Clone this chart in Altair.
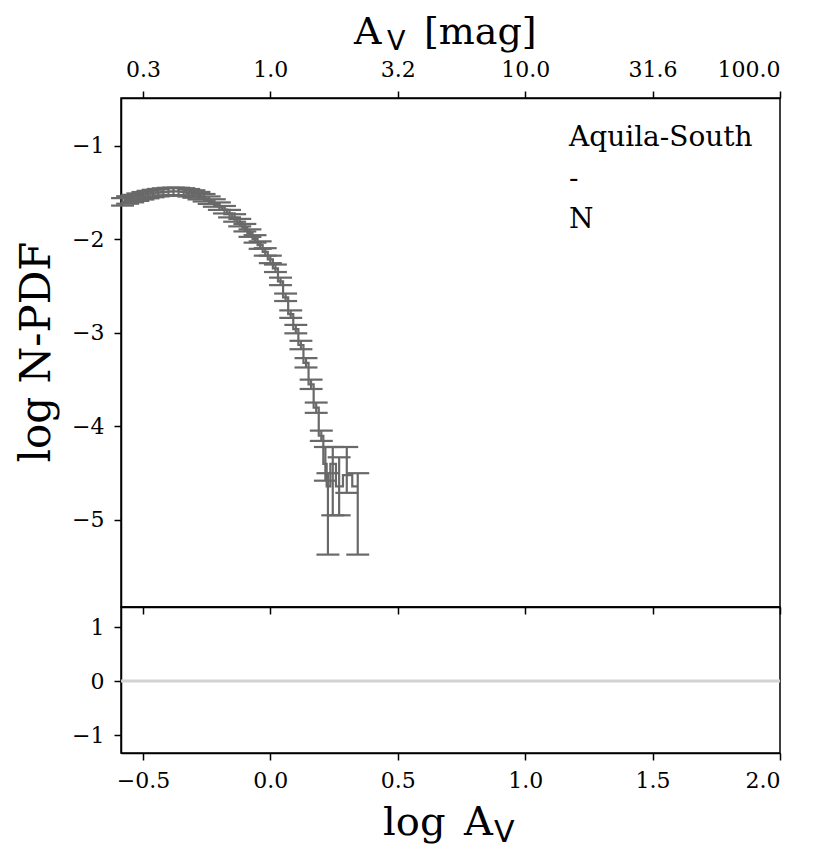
import altair as alt
import pandas as pd

# ---- data ----
log_av = [-0.58, -0.56, -0.54, -0.52, -0.50, -0.48, -0.46, -0.44, -0.42, -0.40,
          -0.38, -0.36, -0.34, -0.32, -0.30, -0.28, -0.26, -0.24, -0.22, -0.20,
          -0.18, -0.16, -0.14, -0.12, -0.10, -0.08, -0.06, -0.04, -0.02, 0.00,
          0.02, 0.04, 0.06, 0.08, 0.10, 0.12, 0.14, 0.16, 0.18, 0.20,
          0.216, 0.226, 0.245, 0.270, 0.300, 0.343]
log_pdf = [-1.600, -1.580, -1.565, -1.550, -1.535, -1.522, -1.511, -1.502, -1.495, -1.490,
           -1.488, -1.489, -1.494, -1.503, -1.516, -1.534, -1.556, -1.582, -1.612, -1.646,
           -1.684, -1.726, -1.772, -1.822, -1.876, -1.934, -1.996, -2.062, -2.135, -2.215,
           -2.310, -2.450, -2.620, -2.800, -2.960, -3.130, -3.320, -3.550, -3.800, -4.100,
           -4.400, -4.640, -4.400, -4.640, -4.520, -4.640]
err_lo = [0.040, 0.040, 0.040, 0.040, 0.040, 0.040, 0.040, 0.040, 0.040, 0.040,
          0.040, 0.040, 0.040, 0.040, 0.040, 0.040, 0.040, 0.040, 0.040, 0.040,
          0.040, 0.040, 0.040, 0.040, 0.040, 0.040, 0.040, 0.040, 0.040, 0.040,
          0.040, 0.040, 0.040, 0.040, 0.045, 0.045, 0.050, 0.050, 0.055, 0.055,
          0.180, 0.730, 0.550, 0.310, 0.190, 0.730]
err_hi = [0.040, 0.040, 0.040, 0.040, 0.040, 0.040, 0.040, 0.040, 0.040, 0.040,
          0.040, 0.040, 0.040, 0.040, 0.040, 0.040, 0.040, 0.040, 0.040, 0.040,
          0.040, 0.040, 0.040, 0.040, 0.040, 0.040, 0.040, 0.040, 0.040, 0.040,
          0.040, 0.040, 0.040, 0.040, 0.045, 0.045, 0.050, 0.050, 0.055, 0.055,
          0.180, 0.140, 0.180, 0.310, 0.300, 0.140]
cap_half = 0.045
legend_text = "Aquila-South\n-\nN"
x_ticks = [-0.5, 0.0, 0.5, 1.0, 1.5, 2.0]
y_ticks_main = [-5, -4, -3, -2, -1]
y_ticks_res = [-1, 0, 1]
residual_level = [0.0]

df = pd.DataFrame({"x": log_av, "y": log_pdf, "elo": err_lo, "ehi": err_hi})
df["lo"] = df["y"] - df["elo"]
df["hi"] = df["y"] + df["ehi"]
df["xl"] = df["x"] - cap_half
df["xr"] = df["x"] + cap_half

GRAY = "#696969"
SERIF = "DejaVu Serif"
SANS = "DejaVu Sans"
W, H_MAIN, H_RES = 659, 509, 146
SW = 2.2

xscale = alt.Scale(domain=[-0.586, 2.0], nice=False, zero=False)
ymain = alt.Scale(domain=[-5.93, -0.49], nice=False, zero=False)
yres = alt.Scale(domain=[-1.33, 1.37], nice=False, zero=False)

bottom_axis = alt.Axis(values=x_ticks, labels=False, title=None, orient="bottom")
y_axis = alt.Axis(values=y_ticks_main, format="d", title=None)

base = alt.Chart(df)
err_v = base.mark_rule(color=GRAY, strokeWidth=SW).encode(
    x=alt.X("x:Q", scale=xscale, axis=bottom_axis),
    y=alt.Y("lo:Q", scale=ymain, axis=y_axis),
    y2="hi:Q",
)
cap_lo = base.mark_rule(color=GRAY, strokeWidth=SW).encode(
    x=alt.X("xl:Q", scale=xscale, axis=bottom_axis), x2="xr:Q",
    y=alt.Y("lo:Q", scale=ymain, axis=y_axis),
)
cap_hi = base.mark_rule(color=GRAY, strokeWidth=SW).encode(
    x=alt.X("xl:Q", scale=xscale, axis=bottom_axis), x2="xr:Q",
    y=alt.Y("hi:Q", scale=ymain, axis=y_axis),
)
step = base.mark_line(color=GRAY, strokeWidth=SW, interpolate="step").encode(
    x=alt.X("x:Q", scale=xscale, axis=bottom_axis),
    y=alt.Y("y:Q", scale=ymain, axis=y_axis),
)

txt = alt.Chart(pd.DataFrame({"t": [legend_text]})).mark_text(
    font=SERIF, fontSize=28, align="left", baseline="alphabetic",
    lineBreak="\n", lineHeight=41, color="black"
).encode(text="t:N", x=alt.value(448), y=alt.value(48))

def label(s, x, y, font=SERIF, size=40, angle=0, align="left"):
    return alt.Chart(pd.DataFrame({"t": [s]})).mark_text(
        font=font, fontSize=size, align=align, baseline="alphabetic",
        angle=angle, color="black"
    ).encode(text="t:N", x=alt.value(x), y=alt.value(y))

top_title = (label("A", 233, -54, size=38)
             + label("V", 266, -48, font=SANS, size=27)
             + label("[mag]", 303, -54, size=38))
y_title = label("log N-PDF", -71, 254, size=42, angle=270, align="center")

inner = alt.layer(err_v, cap_lo, cap_hi, step, txt, top_title, y_title)

top_axis_layer = alt.Chart(pd.DataFrame({"x": x_ticks})).mark_point(opacity=0).encode(
    x=alt.X("x:Q", scale=xscale, axis=alt.Axis(
        orient="top", values=x_ticks, title=None,
        labelExpr="format(pow(10, datum.value), '.1f')")),
)

main = alt.layer(inner, top_axis_layer).resolve_axis(x="independent").properties(
    width=W, height=H_MAIN)

res_line = alt.Chart(pd.DataFrame({"r": residual_level})).mark_rule(
    color="#d3d3d3", strokeWidth=3
).encode(y=alt.Y("r:Q", scale=yres, axis=alt.Axis(values=y_ticks_res, format="d", title=None)))

res_axis = alt.Chart(pd.DataFrame({"x": x_ticks})).mark_point(opacity=0).encode(
    x=alt.X("x:Q", scale=xscale, axis=alt.Axis(values=x_ticks, format=".1f", title=None)),
)

x_title = label("log", 262, 228) + label("A", 343, 228) + label("V", 373, 235, font=SANS, size=30)

resid = alt.layer(res_line, res_axis, x_title).properties(width=W, height=H_RES)

chart = alt.vconcat(main, resid, spacing=0, bounds="flush").properties(
    padding={"left": 7, "top": 5, "right": 5, "bottom": 5}
).configure_view(
    stroke="black", strokeWidth=1.5
).configure_axis(
    domainColor="black", domainWidth=1.5, tickColor="black", tickWidth=1.5,
    tickSize=7, labelFont=SERIF, labelFontSize=22, labelColor="black",
    grid=False, labelPadding=10,
)

chart.save("out.html", embed_options={"renderer": "svg", "actions": False})
